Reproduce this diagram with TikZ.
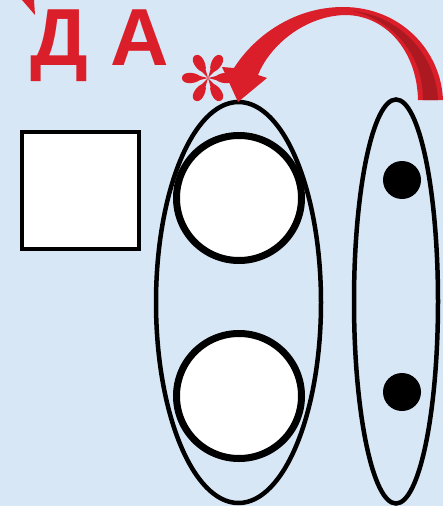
\documentclass[tikz,border=0pt]{standalone}
\usepackage{fontspec}
\setmainfont{Liberation Sans}
\usepackage{tikz}
\usetikzlibrary{shapes.geometric}

\definecolor{bgblue}{RGB}{216,231,245}
\definecolor{arrowred}{RGB}{219,31,42}
\definecolor{darkred}{RGB}{172,25,33}

\begin{document}
\begin{tikzpicture}[
            x=1pt, y=-1pt,
            box/.style={rectangle, draw=black, line width=4.5pt, fill=white, minimum size=117pt, inner sep=0pt},
            group/.style={ellipse, draw=black, line width=4.5pt, inner sep=0pt},
            ring/.style={circle, draw=black, line width=7pt, fill=white, minimum size=125pt, inner sep=0pt},
            dot/.style={circle, fill=black, minimum size=38pt, inner sep=0pt},
            letters/.style={text=arrowred, font=\bfseries\fontsize{81}{81}\selectfont, inner sep=0pt},
            petal/.style={fill=arrowred}
            ]

            \fill [bgblue] (0,0) rectangle (443,506);
            \useasboundingbox (0,0) rectangle (443,506);

            \node (da) [letters, anchor=base west] at (30,65) {Д А};
            \fill [arrowred] (22,0) -- (34,0) -- (35,15) -- cycle;

            \node (square) [box] at (80.5,190.5) {};
            \node (leftgroup) [group, minimum width=165pt, minimum height=401pt] at (238.5,302.5) {};
            \node (rightgroup) [group, minimum width=84pt, minimum height=404pt] at (396,301.5) {};
            \node (topring) [ring] at (239,198) {};
            \node (bottomring) [ring] at (239,396) {};
            \node (topdot) [dot] at (402,180) {};
            \node (bottomdot) [dot] at (402,392) {};

            % asterisk
            \begin{scope}[shift={(208,78)}]
                \foreach \a in {30,90,...,330}
                    \fill [petal, rotate=\a] (0,0) -- (2,8) .. controls (6.5,14) and (6.5,26) .. (0,26) .. controls (-6.5,26) and (-6.5,14) .. (-2,8) -- cycle;
            \end{scope}

            % curved arrow
            \fill [arrowred] (443,100) .. controls (441,50) and (400,7) .. (343,7)
                .. controls (295,7) and (255,35) .. (234,68) -- (222,67) -- (238,102) -- (267,78) -- (258,75)
                .. controls (270,45) and (305,16) .. (345,15)
                .. controls (385,15) and (417,50) .. (418,100) -- cycle;
            \fill [darkred] (438,100) .. controls (436,55) and (400,16) .. (353,11)
                .. controls (395,22) and (423,55) .. (423,100) -- cycle;
\end{tikzpicture}
\end{document}
